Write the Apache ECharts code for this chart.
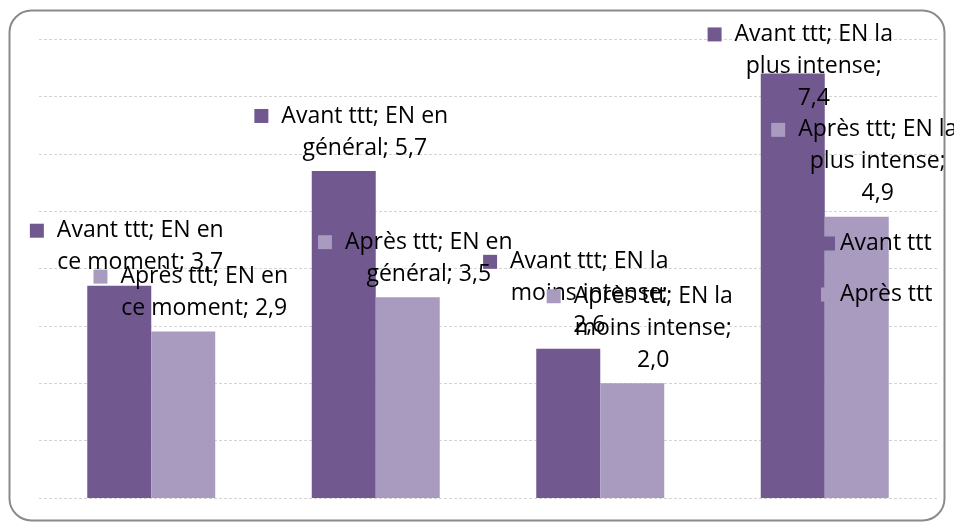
<!DOCTYPE html>
<html>
<head>
<meta charset="utf-8">
<script src="https://cdn.jsdelivr.net/npm/echarts@6/dist/echarts.min.js"></script>
<style>
  html, body { margin: 0; padding: 0; background: #fff; }
  #chart { width: 954px; height: 523px; }
</style>
</head>
<body>
<div id="chart"></div>
<script>
(function () {
    // données
    const catHead = ['EN en', 'EN en', 'EN la', 'EN la']
    const catTail = ['ce moment', 'général', 'moins intense', 'plus intense']
    const avant = [3.7, 5.7, 2.6, 7.4]
    const apres = [2.9, 3.5, 2.0, 4.9]
    const seriesNames = ['Avant ttt', 'Après ttt']

    const colors = ['#71588f', '#a99abf']
    const font = 'Open Sans'
    const fontSize = 23
    // retour à la ligne avant la valeur (comme Excel)
    const wrapValue = [false, false, true, true]

    function labelFormatter(p) {
        const i = p.dataIndex
        const v = p.value.toFixed(1).replace('.', ',')
        let s = '{m|}{g|}{t|' + p.seriesName + '; ' + catHead[i] + '}{p|}\n'
        if (wrapValue[i]) {
            s += '{t|' + catTail[i] + ';}\n{t|' + v + '}'
        } else {
            s += '{t|' + catTail[i] + '; ' + v + '}'
        }
        return s
    }

    function makeLabel(color) {
        return {
            show: true,
            position: 'top',
            distance: 0,
            offset: [21, -7],
            formatter: labelFormatter,
            rich: {
                m: { width: 14, height: 14, backgroundColor: color },
                g: { width: 13 },
                p: { width: 27 },
                t: { fontSize: fontSize, lineHeight: 32, color: '#000', fontFamily: font }
            }
        }
    }

    function makeData(values, offsets) {
        return values.map((v, i) => {
            const item = { value: v }
            if (offsets && offsets[i]) {
                item.label = { offset: offsets[i] }
            }
            return item
        })
    }

    const chart = echarts.init(document.getElementById('chart'), null, { renderer: 'canvas' })

    const option = {
        backgroundColor: '#fff',
        animation: false,
        grid: { left: 39, right: 17, top: 39, bottom: 25, containLabel: false },
        legend: {
            orient: 'vertical',
            left: 821,
            top: 232,
            padding: 0,
            itemWidth: 14,
            itemHeight: 14,
            itemGap: 28,
            icon: 'rect',
            textStyle: { fontSize: fontSize, color: '#000', fontFamily: font },
            data: seriesNames
        },
        xAxis: {
            type: 'category',
            data: catTail,
            axisLine: { show: false },
            axisTick: { show: false },
            axisLabel: { show: false }
        },
        yAxis: {
            type: 'value',
            min: 0,
            max: 8,
            interval: 1,
            axisLabel: { show: false },
            axisLine: { show: false },
            axisTick: { show: false },
            splitLine: { lineStyle: { color: '#d4d4d4', type: [3, 2], width: 1 } }
        },
        graphic: [{
            type: 'rect',
            shape: { x: 9.5, y: 10.5, width: 935, height: 510, r: 22 },
            style: { fill: 'none', stroke: '#8a8a8a', lineWidth: 2 },
            silent: true,
            z: 100
        }],
        series: [{
            name: seriesNames[0],
            type: 'bar',
            barGap: 0,
            barCategoryGap: '43%',
            itemStyle: { color: colors[0] },
            label: makeLabel(colors[0]),
            data: makeData(avant, [null, null, null, [21, 41]])
        }, {
            name: seriesNames[1],
            type: 'bar',
            barGap: 0,
            barCategoryGap: '43%',
            itemStyle: { color: colors[1] },
            label: makeLabel(colors[1]),
            data: makeData(apres)
        }]
    }
    chart.setOption(option)
})()
</script>
</body>
</html>
